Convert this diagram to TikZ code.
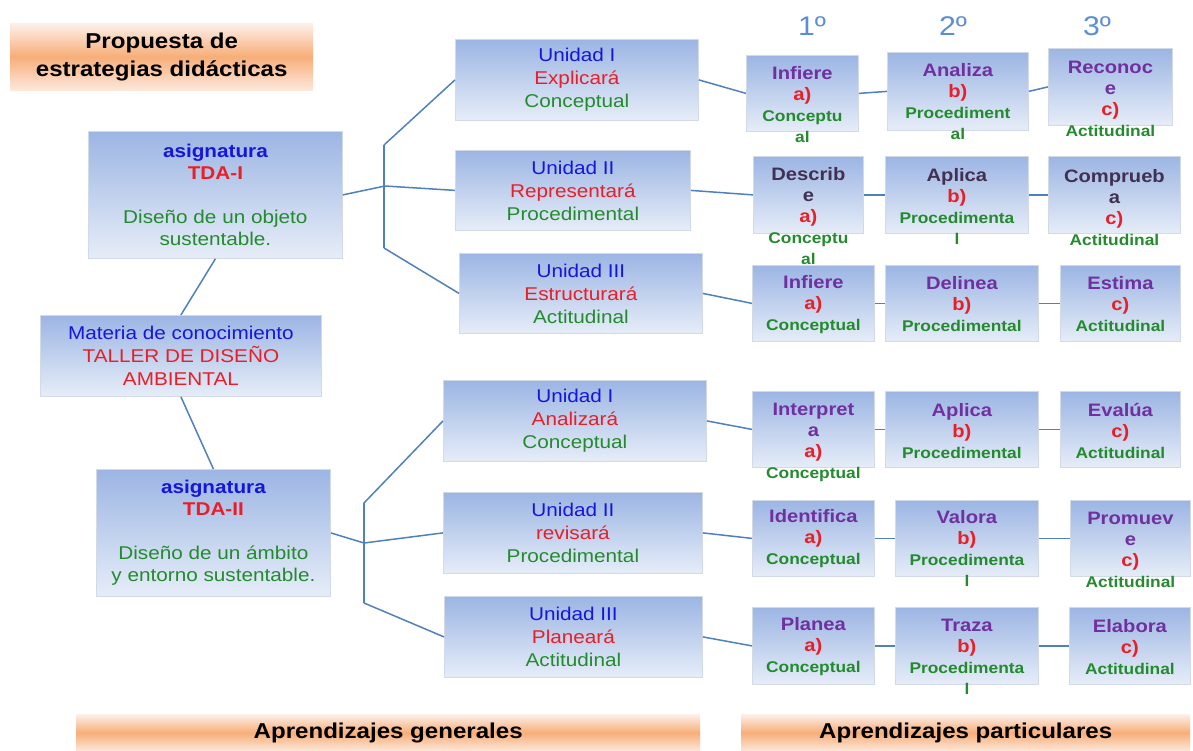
\documentclass[tikz,border=0pt]{standalone}
\usepackage{fontspec}
\setmainfont{Liberation Sans}[FakeStretch=1.12]
\definecolor{cblue}{HTML}{1515E0}
\definecolor{cred}{HTML}{E81E28}
\definecolor{cgreen}{HTML}{238B2E}
\definecolor{cpurp}{HTML}{7030A0}
\definecolor{cdark}{HTML}{403152}
\definecolor{cline}{HTML}{4F81BD}
\definecolor{boxtop}{HTML}{9CB5E3}
\definecolor{boxbot}{HTML}{E6EDF8}
\definecolor{boxedge}{HTML}{D2DAE8}
\definecolor{ortop}{HTML}{FDF0EA}
\definecolor{ormid}{HTML}{F7AE78}
\definecolor{orbot}{HTML}{FCE8DC}
\definecolor{hdr}{HTML}{5B8ED6}
\newcommand{\ttl}[1]{{\bfseries\color{cpurp}#1}}
\newcommand{\ttd}[1]{{\bfseries\color{cdark}#1}}
\newcommand{\lab}[1]{{\bfseries\color{cred}#1}}
\newcommand{\kind}[1]{{\fontsize{15.5}{21}\selectfont\bfseries\color{cgreen}#1}}
\begin{document}
\begin{tikzpicture}[x=1pt,y=-1pt,
  box/.style={draw=boxedge,line width=0.8pt,top color=boxtop,bottom color=boxbot,
    inner sep=0pt,anchor=north west,align=center},
  obox/.style={draw=none,top color=ortop,bottom color=orbot,middle color=ormid,
    inner sep=0pt,anchor=north west,align=center},
  big/.style={font=\fontsize{18.5}{22}\selectfont},
  unit/.style={font=\fontsize{18.5}{23}\selectfont},
  stext/.style={align=center,inner sep=0pt,font=\fontsize{18}{21}\selectfont},
  conn/.style={draw=cline,line width=1.5pt},
  hd/.style={inner sep=0pt,text=hdr,font=\fontsize{27}{30}\selectfont}]
\useasboundingbox[fill=white] (0,0) rectangle (1193,751);

% title and bottom bars
\node[obox,minimum width=303pt,minimum height=67pt,font=\fontsize{21.5}{28}\selectfont\bfseries] (title) at (10,23) {Propuesta de\\estrategias didácticas};
\node[obox,minimum width=624pt,minimum height=37pt,font=\fontsize{21.5}{24}\selectfont\bfseries] (bar1) at (76,714) {\raisebox{-2pt}{Aprendizajes generales}};
\node[obox,minimum width=449pt,minimum height=37pt,font=\fontsize{21.5}{24}\selectfont\bfseries] (bar2) at (741,714) {\raisebox{-2pt}{Aprendizajes particulares}};

% headers
\node[hd] (h1) at (812,26) {1º};
\node[hd] (h2) at (953,26) {2º};
\node[hd] (h3) at (1097,26) {3º};

% left boxes
\node[box,big,minimum width=254pt,minimum height=127pt] (tda1) at (88,131)
  {{\bfseries\color{cblue}asignatura}\\{\bfseries\color{cred}TDA-I}\\[22pt]{\color{cgreen}Diseño de un objeto}\\{\color{cgreen}sustentable.}};
\node[box,big,minimum width=281pt,minimum height=81pt,font=\fontsize{18.5}{23}\selectfont] (mat) at (40,315)
  {{\color{cblue}Materia de conocimiento}\\{\color{cred}TALLER DE DISEÑO}\\{\color{cred}AMBIENTAL}};
\node[box,big,minimum width=234pt,minimum height=127pt] (tda2) at (96,469)
  {{\bfseries\color{cblue}asignatura}\\{\bfseries\color{cred}TDA-II}\\[22pt]{\color{cgreen}Diseño de un ámbito}\\{\color{cgreen}y entorno sustentable.}};

% unit boxes
\node[box,unit,minimum width=243pt,minimum height=81pt] (u1) at (455,39)
  {{\color{cblue}Unidad I}\\{\color{cred}Explicará}\\{\color{cgreen}Conceptual}};
\node[box,unit,minimum width=235pt,minimum height=80pt] (u2) at (455,150)
  {{\color{cblue}Unidad II}\\{\color{cred}Representará}\\{\color{cgreen}Procedimental}};
\node[box,unit,minimum width=243pt,minimum height=80pt] (u3) at (459,253)
  {{\color{cblue}Unidad III}\\{\color{cred}Estructurará}\\{\color{cgreen}Actitudinal}};
\node[box,unit,minimum width=263pt,minimum height=81pt] (v1) at (443,380)
  {{\color{cblue}Unidad I}\\{\color{cred}Analizará}\\{\color{cgreen}Conceptual}};
\node[box,unit,minimum width=259pt,minimum height=81pt] (v2) at (443,492)
  {{\color{cblue}Unidad II}\\{\color{cred}revisará}\\{\color{cgreen}Procedimental}};
\node[box,unit,minimum width=258pt,minimum height=81pt] (v3) at (444,596)
  {{\color{cblue}Unidad III}\\{\color{cred}Planeará}\\{\color{cgreen}Actitudinal}};

% small boxes
\node[box,minimum width=112pt,minimum height=76pt] (a1) at (746,55) {};
\node[box,minimum width=141pt,minimum height=78pt] (a2) at (887,52) {};
\node[box,minimum width=124pt,minimum height=77pt] (a3) at (1048,48) {};
\node[box,minimum width=110pt,minimum height=77pt] (b1) at (753,156) {};
\node[box,minimum width=143pt,minimum height=77pt] (b2) at (885,156) {};
\node[box,minimum width=132pt,minimum height=77pt] (b3) at (1048,156) {};
\node[box,minimum width=122pt,minimum height=76pt] (c1) at (752,265) {};
\node[box,minimum width=153pt,minimum height=76pt] (c2) at (885,265) {};
\node[box,minimum width=120pt,minimum height=76pt] (c3) at (1060,265) {};
\node[box,minimum width=122pt,minimum height=76pt] (d1) at (752,391) {};
\node[box,minimum width=153pt,minimum height=76pt] (d2) at (885,391) {};
\node[box,minimum width=120pt,minimum height=76pt] (d3) at (1060,391) {};
\node[box,minimum width=122pt,minimum height=76pt] (e1) at (752,500) {};
\node[box,minimum width=143pt,minimum height=76pt] (e2) at (895,500) {};
\node[box,minimum width=120pt,minimum height=76pt] (e3) at (1070,500) {};
\node[box,minimum width=122pt,minimum height=77pt] (f1) at (752,607) {};
\node[box,minimum width=143pt,minimum height=77pt] (f2) at (895,607) {};
\node[box,minimum width=121pt,minimum height=77pt] (f3) at (1069,607) {};

% small box texts
\node[stext] (a1t) at (a1.center |- 0,104.5) {\ttl{Infiere}\\\lab{a)}\\\kind{Conceptu}\\\kind{al}};
\node[stext] (a2t) at (a2.center |- 0,101.5) {\ttl{Analiza}\\\lab{b)}\\\kind{Procediment}\\\kind{al}};
\node[stext] (a3t) at (a3.center |- 0,99) {\ttl{Reconoc}\\\ttl{e}\\\lab{c)}\\\kind{Actitudinal}};
\node[stext] (b1t) at (b1.center |- 0,216.5) {\ttd{Describ}\\\ttd{e}\\\lab{a)}\\\kind{Conceptu}\\\kind{al}};
\node[stext] (b2t) at (b2.center |- 0,206) {\ttd{Aplica}\\\lab{b)}\\\kind{Procedimenta}\\\kind{l}};
\node[stext] (b3t) at (b3.center |- 0,207.5) {\ttd{Comprueb}\\\ttd{a}\\\lab{c)}\\\kind{Actitudinal}};
\node[stext] (c1t) at (c1.center |- 0,304.5) {\ttl{Infiere}\\\lab{a)}\\\kind{Conceptual}};
\node[stext] (c2t) at (c2.center |- 0,304.5) {\ttl{Delinea}\\\lab{b)}\\\kind{Procedimental}};
\node[stext] (c3t) at (c3.center |- 0,304.5) {\ttl{Estima}\\\lab{c)}\\\kind{Actitudinal}};
\node[stext] (d1t) at (d1.center |- 0,442.5) {\ttl{Interpret}\\\ttl{a}\\\lab{a)}\\\kind{Conceptual}};
\node[stext] (d2t) at (d2.center |- 0,431) {\ttl{Aplica}\\\lab{b)}\\\kind{Procedimental}};
\node[stext] (d3t) at (d3.center |- 0,431) {\ttl{Evalúa}\\\lab{c)}\\\kind{Actitudinal}};
\node[stext] (e1t) at (e1.center |- 0,539) {\ttl{Identifica}\\\lab{a)}\\\kind{Conceptual}};
\node[stext] (e2t) at (e2.center |- 0,548.5) {\ttl{Valora}\\\lab{b)}\\\kind{Procedimenta}\\\kind{l}};
\node[stext] (e3t) at (e3.center |- 0,550) {\ttl{Promuev}\\\ttl{e}\\\lab{c)}\\\kind{Actitudinal}};
\node[stext] (f1t) at (f1.center |- 0,647) {\ttl{Planea}\\\lab{a)}\\\kind{Conceptual}};
\node[stext] (f2t) at (f2.center |- 0,657) {\ttl{Traza}\\\lab{b)}\\\kind{Procedimenta}\\\kind{l}};
\node[stext] (f3t) at (f3.center |- 0,647) {\ttl{Elabora}\\\lab{c)}\\\kind{Actitudinal}};

% junctions
\coordinate (j1) at (385,186);
\coordinate (j1t) at (384,145);
\coordinate (j1b) at (384,248);
\coordinate (j2) at (364,543);
\coordinate (j2t) at (364,503);
\coordinate (j2b) at (364,603);

% connectors
\draw[conn] (tda1.south) -- (mat.north);
\draw[conn] (mat.south) -- (tda2.north);
\draw[conn] (tda1.east) -- (j1);
\draw[conn] (j1t) -- (j1b);
\draw[conn] (j1t) -- (u1.west);
\draw[conn] (j1) -- (u2.west);
\draw[conn] (j1b) -- (u3.west);
\draw[conn] (tda2.east) -- (j2);
\draw[conn] (j2t) -- (j2b);
\draw[conn] (j2t) -- (v1.west);
\draw[conn] (j2) -- (v2.west);
\draw[conn] (j2b) -- (v3.west);
\draw[conn] (u1.east) -- (a1.west);
\draw[conn] (u2.east) -- (b1.west);
\draw[conn] (u3.east) -- (c1.west);
\draw[conn] (v1.east) -- (d1.west);
\draw[conn] (v2.east) -- (e1.west);
\draw[conn] (v3.east) -- (f1.west);
\draw[conn] (a1.east) -- (a2.west);
\draw[conn] (a2.east) -- (a3.west);
\draw[conn] (b1.east) -- (b2.west);
\draw[conn] (b2.east) -- (b3.west);
\draw[conn] (c1.east) -- (c2.west);
\draw[conn] (c2.east) -- (c3.west);
\draw[conn] (d1.east) -- (d2.west);
\draw[conn] (d2.east) -- (d3.west);
\draw[conn] (e1.east) -- (e2.west);
\draw[conn] (e2.east) -- (e3.west);
\draw[conn] (f1.east) -- (f2.west);
\draw[conn] (f2.east) -- (f3.west);
\end{tikzpicture}
\end{document}
